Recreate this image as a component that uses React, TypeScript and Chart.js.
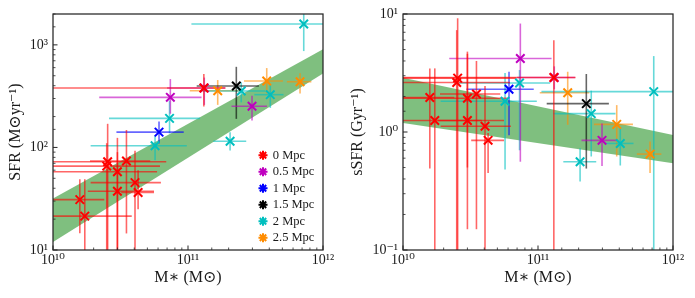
import React, { useEffect, useRef } from 'react';
import { Chart, registerables } from 'chart.js';

Chart.register(...registerables);

// ---------- data ----------
const GROUP_LABELS = ['0 Mpc', '0.5 Mpc', '1 Mpc', '1.5 Mpc', '2 Mpc', '2.5 Mpc'];
const GROUP_COLORS = ['#ff0000', '#bf00bf', '#0000ff', '#000000', '#00bfbf', '#ff8c00'];

// group index of every galaxy
const GROUP_OF_POINT = [0, 0, 0, 0, 0, 0, 0, 0, 0, 0, 1, 1, 1, 2, 3, 4, 4, 4, 4, 4, 4, 5, 5, 5];

// stellar mass (Msun) and its error-bar ends
const MASS = [1.58e10, 1.72e10, 2.54e10, 2.5e10, 3.0e10, 3.0e10, 3.5e10, 4.05e10, 4.27e10, 1.31e11,
  7.4e10, 1.32e11, 2.98e11, 6.1e10, 2.28e11, 7.2e11, 7.3e10, 5.7e10, 2.48e11, 4.07e11, 2.05e11,
  1.66e11, 3.83e11, 6.76e11];
const MASS_LO = [0.95e10, 0.95e10, 0.95e10, 0.95e10, 0.95e10, 1.81e10, 1.88e10, 1.9e10, 3.2e10, 0.95e10,
  2.2e10, 7.0e10, 2.1e11, 2.95e10, 1.16e11, 1.06e11, 2.6e10, 1.9e10, 1.3e11, 3.1e11, 1.54e11,
  1.03e11, 2.6e11, 5.4e11];
const MASS_HI = [2.4e10, 3.83e10, 6.9e10, 6.2e10, 5.9e10, 5.6e10, 5.25e10, 6.3e10, 5.6e10, 1.9e11,
  1.26e11, 1.88e11, 3.85e11, 9.3e10, 3.35e11, 1.3e12, 1.23e11, 9.8e10, 3.75e11, 5.1e11, 2.7e11,
  2.4e11, 5.05e11, 8.2e11];

// SFR (Msun/yr) and its error-bar ends
const SFR = [31, 21.4, 72.6, 65.8, 58, 37.4, 73.7, 45.4, 36.3, 380,
  308, 380, 252, 141, 397, 1600, 192, 104, 355, 327, 115,
  357, 445, 437];
const SFR_LO = [14.6, 8, 8, 8, 8, 8, 14.5, 8, 25, 250,
  213, 260, 183, 109, 190, 870, 137, 75, 275, 243, 93.5,
  260, 336, 336];
const SFR_HI = [49, 49, 170, 110, 124, 90, 148, 93, 60, 520,
  464, 480, 320, 179, 611, 3000, 286, 131, 430, 408, 141,
  454, 594, 530];

// sSFR (1/Gyr) and its error-bar ends
const SSFR = [1.96, 1.25, 2.86, 2.63, 1.93, 1.25, 2.1, 1.12, 0.85, 2.9,
  4.2, 2.9, 0.85, 2.3, 1.74, 2.2, 2.6, 1.82, 1.43, 0.8, 0.56,
  2.15, 1.16, 0.65];
const SSFR_LO = [0.49, 0.08, 0.08, 0.08, 0.5, 0.15, 0.15, 0.08, 0.45, 0.08,
  0.56, 2.3, 0.515, 0.94, 0.49, 0.08, 0.7, 0.48, 0.62, 0.52, 0.38,
  1.15, 0.62, 0.45];
const SSFR_HI = [3.46, 3.46, 9.2, 7.3, 4.8, 4.6, 4.0, 2.45, 0.98, 6.0,
  8.3, 3.6, 1.18, 3.24, 3.1, 4.4, 3.35, 3.16, 2.24, 1.1, 0.73,
  3.24, 1.69, 0.83];

// main-sequence band
const BAND_MASS = [1e10, 1e12];
const SFR_BAND_LO = [12, 525];
const SFR_BAND_HI = [31.8, 908];
const SSFR_BAND_LO = [1.19, 0.543];
const SSFR_BAND_HI = [2.88, 0.944];

// tick labels
const X_TICK_VALUES = [1e10, 1e11, 1e12];
const X_TICK_LABELS = ['10¹⁰', '10¹¹', '10¹²'];
const SFR_TICK_VALUES = [10, 100, 1000];
const SFR_TICK_LABELS = ['10¹', '10²', '10³'];
const SSFR_TICK_VALUES = [0.1, 1, 10];
const SSFR_TICK_LABELS = ['10⁻¹', '10⁰', '10¹'];

// ---------- helpers ----------
const FONT = "'Liberation Serif', 'DejaVu Serif', serif";
const TEXT = '#1a1a1a';

function hexA(hex: string, a: number) {
  const n = parseInt(hex.slice(1), 16);
  return `rgba(${(n >> 16) & 255},${(n >> 8) & 255},${n & 255},${a})`;
}

function isDecade(v: number) {
  const e = Math.log10(v);
  return Math.abs(e - Math.round(e)) < 1e-6;
}

function tickLabel(values: number[], labels: string[]) {
  return (v: any) => {
    const n = Number(v);
    const i = values.findIndex((t) => Math.abs(Math.log10(n) - Math.log10(t)) < 1e-6);
    return i >= 0 ? labels[i] : '';
  };
}

function makeDatasets(val: number[], lo: number[], hi: number[], bandLo: number[], bandHi: number[]) {
  const ds: any[] = [];
  GROUP_LABELS.forEach((label, g) => {
    const pts: any[] = [];
    MASS.forEach((m, i) => {
      if (GROUP_OF_POINT[i] === g) pts.push({ x: m, y: val[i] });
    });
    const c = GROUP_COLORS[g];
    ds.push({
      label,
      data: pts,
      showLine: false,
      pointStyle: 'crossRot',
      pointRadius: 6,
      pointHoverRadius: 6,
      pointBorderWidth: 2,
      pointBorderColor: c,
      pointBackgroundColor: c,
      borderColor: c,
      backgroundColor: c,
      order: 0,
    });
  });
  MASS.forEach((m, i) => {
    const c = hexA(GROUP_COLORS[GROUP_OF_POINT[i]], 0.6);
    const common = { showLine: true, pointRadius: 0, pointHoverRadius: 0, borderColor: c, backgroundColor: c, borderWidth: 1.6, fill: false, order: 1, label: '' };
    ds.push({ ...common, data: [{ x: MASS_LO[i], y: val[i] }, { x: MASS_HI[i], y: val[i] }] });
    ds.push({ ...common, data: [{ x: m, y: lo[i] }, { x: m, y: hi[i] }] });
  });
  ds.push({
    label: '', showLine: true, pointRadius: 0, borderWidth: 0, borderColor: 'rgba(0,0,0,0)', fill: false, order: 2,
    data: BAND_MASS.map((m, i) => ({ x: m, y: bandLo[i] })),
  });
  ds.push({
    label: '', showLine: true, pointRadius: 0, borderWidth: 0, borderColor: 'rgba(0,0,0,0)', order: 2,
    fill: '-1', backgroundColor: 'rgba(0,128,0,0.5)',
    data: BAND_MASS.map((m, i) => ({ x: m, y: bandHi[i] })),
  });
  return ds;
}

const frameTicks = {
  id: 'frameTicks',
  afterDraw(chart: any) {
    const { ctx, chartArea: a } = chart;
    ctx.save();
    ctx.strokeStyle = '#262626';
    (['x', 'y'] as const).forEach((id) => {
      const s = chart.scales[id];
      s.ticks.forEach((t: any) => {
        const major = isDecade(t.value);
        const len = major ? 4.5 : 2.5;
        ctx.lineWidth = major ? 1 : 0.8;
        const p = s.getPixelForValue(t.value);
        ctx.beginPath();
        if (id === 'x') {
          ctx.moveTo(p, a.bottom);
          ctx.lineTo(p, a.bottom - len);
        } else {
          ctx.moveTo(a.left, p);
          ctx.lineTo(a.left + len, p);
        }
        ctx.stroke();
      });
    });
    ctx.lineWidth = 1.25;
    ctx.strokeRect(a.left, a.top, a.right - a.left, a.bottom - a.top);
    ctx.restore();
  },
};

const legendMover = {
  id: 'legendMover',
  afterLayout(chart: any) {
    const lg = chart.legend;
    const a = chart.chartArea;
    if (!lg) return;
    lg.left = a.right - 67.5;
    lg.top = a.top + 131;
    lg.right = chart.width;
    lg.bottom = chart.height;
    lg.width = lg.right - lg.left;
    lg.height = lg.bottom - lg.top;
  },
};

function makeConfig(p: any) {
  return {
    type: 'scatter',
    data: { datasets: makeDatasets(p.val, p.lo, p.hi, p.bandLo, p.bandHi) },
    options: {
      responsive: false,
      animation: false,
      events: [],
      layout: { padding: { left: 0, right: 22, top: 14, bottom: 0 } },
      plugins: {
        tooltip: { enabled: false },
        legend: p.legend
          ? {
              display: true,
              position: 'chartArea',
              align: 'start',
              labels: {
                usePointStyle: true,
                pointStyle: 'star',
                boxWidth: 7,
                boxHeight: 6.4,
                padding: 4,
                color: TEXT,
                font: { family: FONT, size: 12.5 },
                filter: (item: any) => item.datasetIndex < GROUP_LABELS.length,
              },
            }
          : { display: false },
      },
      scales: {
        x: {
          type: 'logarithmic',
          min: 1e10,
          max: 1e12,
          grid: { display: false, drawTicks: false },
          border: { display: false },
          ticks: {
            autoSkip: false,
            maxRotation: 0,
            minRotation: 0,
            padding: 2,
            color: TEXT,
            font: { family: FONT, size: 14 },
            callback: tickLabel(X_TICK_VALUES, X_TICK_LABELS),
          },
          title: { display: true, text: 'M∗ (M⊙)', color: TEXT, font: { family: FONT, size: 16 }, padding: { top: 0, bottom: 11 } },
          afterFit: (s: any) => { s.height = 48; },
        },
        y: {
          type: 'logarithmic',
          min: p.yMin,
          max: p.yMax,
          grid: { display: false, drawTicks: false },
          border: { display: false },
          ticks: {
            autoSkip: false,
            padding: 5,
            color: TEXT,
            font: { family: FONT, size: 14 },
            callback: tickLabel(p.yTickValues, p.yTickLabels),
          },
          title: { display: true, text: p.yTitle, color: TEXT, font: { family: FONT, size: 16 }, padding: { top: p.yTitlePad, bottom: 0 } },
          afterFit: (s: any) => { s.width = p.yWidth; },
        },
      },
    },
    plugins: p.legend ? [frameTicks, legendMover] : [frameTicks],
  } as any;
}

export default function App() {
  const leftRef = useRef<HTMLCanvasElement>(null);
  const rightRef = useRef<HTMLCanvasElement>(null);

  useEffect(() => {
    const left = new Chart(leftRef.current as HTMLCanvasElement, makeConfig({
      val: SFR, lo: SFR_LO, hi: SFR_HI, bandLo: SFR_BAND_LO, bandHi: SFR_BAND_HI,
      yMin: 10, yMax: 2000, yTickValues: SFR_TICK_VALUES, yTickLabels: SFR_TICK_LABELS,
      yTitle: 'SFR (M⊙yr⁻¹)', yWidth: 53, yTitlePad: 6, legend: true,
    }));
    const right = new Chart(rightRef.current as HTMLCanvasElement, makeConfig({
      val: SSFR, lo: SSFR_LO, hi: SSFR_HI, bandLo: SSFR_BAND_LO, bandHi: SSFR_BAND_HI,
      yMin: 0.1, yMax: 10, yTickValues: SSFR_TICK_VALUES, yTickLabels: SSFR_TICK_LABELS,
      yTitle: 'sSFR (Gyr⁻¹)', yWidth: 58, yTitlePad: 3, legend: false,
    }));
    return () => {
      left.destroy();
      right.destroy();
    };
  }, []);

  return (
    <div style={{ position: 'absolute', left: 0, top: 0, width: 695, height: 298, background: '#fff' }}>
      <canvas ref={leftRef} width={345} height={298} style={{ position: 'absolute', left: 0, top: 0, width: 345, height: 298 }} />
      <canvas ref={rightRef} width={350} height={298} style={{ position: 'absolute', left: 345, top: 0, width: 350, height: 298 }} />
    </div>
  );
}
